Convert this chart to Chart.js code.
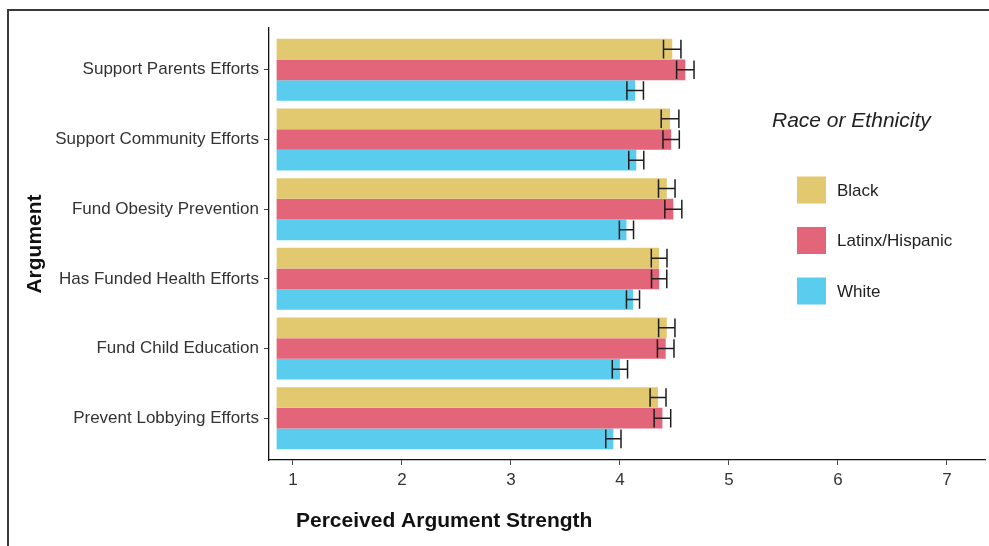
<!DOCTYPE html>
<html>
<head>
<meta charset="utf-8">
<script src="https://cdn.jsdelivr.net/npm/chart.js@4/dist/chart.umd.min.js"></script>
<style>
  html, body { margin: 0; padding: 0; background: #fff; }
  #wrap { width: 989px; height: 546px; position: relative; }
</style>
</head>
<body>
<div id="wrap"><canvas id="c" width="989" height="546"></canvas></div>
<script>
// Arguments, top to bottom
const categories = [
  'Support Parents Efforts',
  'Support Community Efforts',
  'Fund Obesity Prevention',
  'Has Funded Health Efforts',
  'Fund Child Education',
  'Prevent Lobbying Efforts'
];
const groups = ['Black', 'Latinx/Hispanic', 'White'];

// Mean perceived argument strength per group
const blackMeans  = [4.48, 4.46, 4.43, 4.36, 4.43, 4.35];
const latinxMeans = [4.60, 4.47, 4.49, 4.36, 4.42, 4.39];
const whiteMeans  = [4.14, 4.15, 4.06, 4.12, 4.00, 3.94];

// Standard errors (half-width of the error bars)
const blackSE  = [0.080, 0.081, 0.076, 0.072, 0.075, 0.073];
const latinxSE = [0.080, 0.075, 0.078, 0.070, 0.076, 0.076];
const whiteSE  = [0.076, 0.069, 0.065, 0.060, 0.070, 0.070];

const xTicks = [1, 2, 3, 4, 5, 6, 7];

const colors = ['#E2C970', '#E3657A', '#5ACDEE'];
const FONT = '"Liberation Sans", Arial, Helvetica, sans-serif';

const seriesMeans = [blackMeans, latinxMeans, whiteMeans];
const seriesSE = [blackSE, latinxSE, whiteSE];

const datasets = groups.map((g, k) => ({
  label: g,
  data: seriesMeans[k].map((v, i) => ({ y: i, x: v })),
  se: seriesSE[k],
  backgroundColor: colors[k],
  borderWidth: 0,
  base: 0.85,
  categoryPercentage: 0.89,
  barPercentage: 1.0
}));

// Error bars drawn from each bar's mean and standard error
const errorBars = {
  id: 'errorBars',
  afterDatasetsDraw(chart) {
    const ctx = chart.ctx;
    const xs = chart.scales.x;
    ctx.save();
    ctx.strokeStyle = '#1e1e1e';
    ctx.lineWidth = 1.5;
    chart.data.datasets.forEach((ds, di) => {
      const meta = chart.getDatasetMeta(di);
      meta.data.forEach((bar, i) => {
        const v = ds.data[i].x;
        const se = ds.se[i];
        const x1 = xs.getPixelForValue(v - se);
        const x2 = xs.getPixelForValue(v + se);
        const y = bar.y;
        const h = bar.height * 0.45;
        ctx.beginPath();
        ctx.moveTo(x1, y); ctx.lineTo(x2, y);
        ctx.moveTo(x1, y - h); ctx.lineTo(x1, y + h);
        ctx.moveTo(x2, y - h); ctx.lineTo(x2, y + h);
        ctx.stroke();
      });
    });
    ctx.restore();
  }
};

// Frame, x-axis title and the legend box
const decorations = {
  id: 'decorations',
  beforeDraw(chart) {
    const ctx = chart.ctx;
    ctx.save();
    ctx.fillStyle = '#ffffff';
    ctx.fillRect(0, 0, chart.width, chart.height);
    ctx.strokeStyle = '#3a3a3a';
    ctx.lineWidth = 2;
    ctx.beginPath();
    ctx.moveTo(8, chart.height + 5);
    ctx.lineTo(8, 10);
    ctx.lineTo(chart.width + 5, 10);
    ctx.stroke();
    ctx.restore();
  },
  afterDraw(chart) {
    const ctx = chart.ctx;
    ctx.save();
    ctx.fillStyle = '#111';
    ctx.textBaseline = 'middle';
    ctx.textAlign = 'left';
    ctx.font = 'bold 21px ' + FONT;
    ctx.fillText('Perceived Argument Strength', 296, 521);

    ctx.font = 'italic 21px ' + FONT;
    ctx.fillStyle = '#222';
    ctx.fillText('Race or Ethnicity', 772, 121);

    ctx.font = '17px ' + FONT;
    chart.data.datasets.forEach((ds, k) => {
      const cy = 190 + k * 50.5;
      ctx.fillStyle = ds.backgroundColor;
      ctx.fillRect(797, cy - 13.5, 29, 27);
      ctx.fillStyle = '#222';
      ctx.fillText(ds.label, 837, cy + 1);
    });
    ctx.restore();
  }
};

new Chart(document.getElementById('c'), {
  type: 'bar',
  data: { datasets },
  options: {
    indexAxis: 'y',
    responsive: false,
    animation: false,
    layout: { padding: { top: 28, right: 4, left: 0, bottom: 0 } },
    plugins: {
      legend: { display: false },
      tooltip: { enabled: false }
    },
    scales: {
      x: {
        type: 'linear',
        min: 0.78,
        max: 7.35,
        afterBuildTicks(scale) { scale.ticks = xTicks.map(v => ({ value: v })); },
        afterFit(scale) { scale.height = 86; },
        ticks: {
          callback: v => String(v),
          color: '#333',
          font: { size: 17, family: FONT },
          padding: 5,
          maxRotation: 0
        },
        grid: { drawOnChartArea: false, drawTicks: true, tickLength: 5, color: '#444', lineWidth: 1 },
        border: { display: true, color: '#111', width: 1.3 }
      },
      y: {
        type: 'linear',
        reverse: true,
        offset: false,
        min: -0.6,
        max: 5.6,
        afterBuildTicks(scale) { scale.ticks = categories.map((_, i) => ({ value: i })); },
        afterFit(scale) { scale.width = 269; },
        ticks: {
          callback: v => categories[v],
          color: '#333',
          font: { size: 17, family: FONT },
          padding: 5,
          autoSkip: false
        },
        grid: { offset: false, drawOnChartArea: false, drawTicks: true, tickLength: 5, color: '#444', lineWidth: 1 },
        border: { display: true, color: '#111', width: 1.3 },
        title: {
          display: true,
          text: 'Argument',
          color: '#111',
          font: { size: 21, weight: 'bold', family: FONT },
          padding: { top: 23, bottom: 0 }
        }
      }
    }
  },
  plugins: [decorations, errorBars]
});
</script>
</body>
</html>
